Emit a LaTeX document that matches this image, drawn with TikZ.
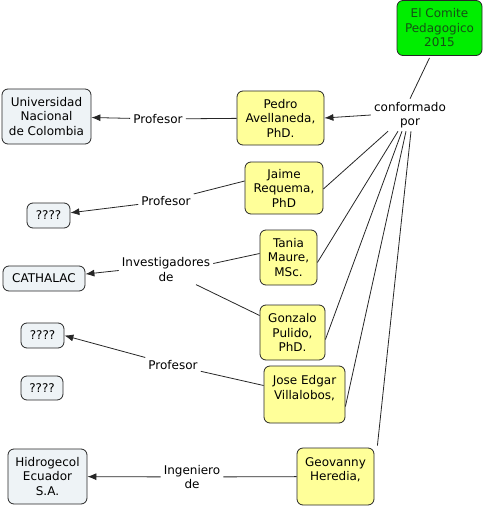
\documentclass[tikz,border=0pt]{standalone}
\usepackage{fontspec}
\setmainfont{DejaVu Sans}
\usetikzlibrary{arrows.meta}
\definecolor{ylw}{HTML}{FFFF99}
\definecolor{ice}{HTML}{EEF3F6}
\definecolor{grn}{HTML}{00EE00}
\definecolor{dgrn}{HTML}{155015}
\tikzset{
  x=1pt, y=-1pt,
  every node/.style={font=\fontsize{12}{14.5}\selectfont, align=center, inner sep=2pt},
  box/.style={draw=black!85, line width=0.8pt, rounded corners=6pt},
  person/.style={box, fill=ylw},
  inst/.style={box, fill=ice},
  lbl/.style={fill=white, inner sep=3pt},
  conn/.style={draw=black!85, line width=0.8pt},
  arr/.style={conn, -{Latex[length=9pt,width=7pt]}},
}
\begin{document}
\begin{tikzpicture}
\useasboundingbox (0,0) rectangle (483,508);
\node[box, fill=grn, text=dgrn, minimum width=85pt, minimum height=55pt] (comite) at (439.5,28) {El Comite\\Pedagogico\\2015};
\node[lbl] (conf) at (410,115) {conformado\\por};

\node[person, minimum width=87pt, minimum height=54pt] (pedro) at (280.5,118) {Pedro\\Avellaneda,\\PhD.};
\node[person, minimum width=78pt, minimum height=52pt] (jaime) at (284,188) {Jaime\\Requema,\\PhD};
\node[person, minimum width=57pt, minimum height=55pt] (tania) at (288.5,257.5) {Tania\\Maure,\\MSc.};
\node[person, minimum width=65pt, minimum height=55pt] (gonzalo) at (292.5,332.5) {Gonzalo\\Pulido,\\PhD.};
\node[person, minimum width=81pt, minimum height=57pt] (jose) at (304.5,394.5) {Jose Edgar\\Villalobos,\\\mbox{}};
\node[person, minimum width=77pt, minimum height=57pt] (geo) at (335.5,476.5) {Geovanny\\Heredia,\\\mbox{}};

\node[inst, minimum width=89pt, minimum height=55pt] (uni) at (46.5,116.5) {Universidad\\Nacional\\de Colombia};
\node[inst, minimum width=43pt, minimum height=25pt] (q1) at (48.5,215.5) {????};
\node[inst, minimum width=82pt, minimum height=25pt] (cath) at (44,278.5) {CATHALAC};
\node[inst, minimum width=43pt, minimum height=25pt] (q2) at (42.5,335.5) {????};
\node[inst, minimum width=42pt, minimum height=24pt] (q3) at (42,388) {????};
\node[inst, minimum width=79pt, minimum height=55pt] (hidro) at (47.5,476.5) {Hidrogecol\\Ecuador\\S.A.};

\node[lbl] (prof1) at (158,119) {Profesor};
\node[lbl] (prof2) at (166,201) {Profesor};
\node[lbl] (inv) at (166,269.5) {Investigadores\\de};
\node[lbl] (prof3) at (173,365) {Profesor};
\node[lbl] (ing) at (192,477) {Ingeniero\\de};

% committee
\draw[conn] (comite.south) ++(-10,2) coordinate (cs) -- (conf.north);
\draw[arr] (conf.west) -- (pedro.east);
\draw[conn] (conf.south) ++(-22,0) coordinate (c1) -- ([yshift=-1pt]jaime.east);
\draw[conn] (conf.south) ++(-12,0) coordinate (c2) -- ([yshift=-5pt]tania.east);
\draw[conn] (conf.south) ++(-8,0) coordinate (c3) -- ([yshift=-7pt]gonzalo.east);
\draw[conn] (conf.south) ++(-4,0) coordinate (c4) -- ([yshift=-12pt]jose.east);
\draw[conn] (conf.south) ++(1,0) coordinate (c5) -- ([shift={(3pt,2pt)}]geo.north east);

% affiliations
\draw[conn] (pedro) -- (prof1);
\draw[arr] (prof1) -- (uni);
\draw[conn] ([yshift=7pt]jaime.west) -- (prof2);
\draw[arr] (prof2) -- (q1);
\draw[conn] ([yshift=4pt]tania.west) -- ([yshift=6pt]inv.east);
\draw[arr] ([yshift=-1pt]inv.west) -- (cath);
\draw[conn] ([yshift=17pt]gonzalo.west) -- ([xshift=30pt]inv.south);
\draw[conn] ([yshift=9pt]jose.west) -- (prof3);
\draw[arr] (prof3) -- (q2.east);
\draw[conn] (geo) -- (ing);
\draw[arr] (ing) -- (hidro);
\end{tikzpicture}
\end{document}
